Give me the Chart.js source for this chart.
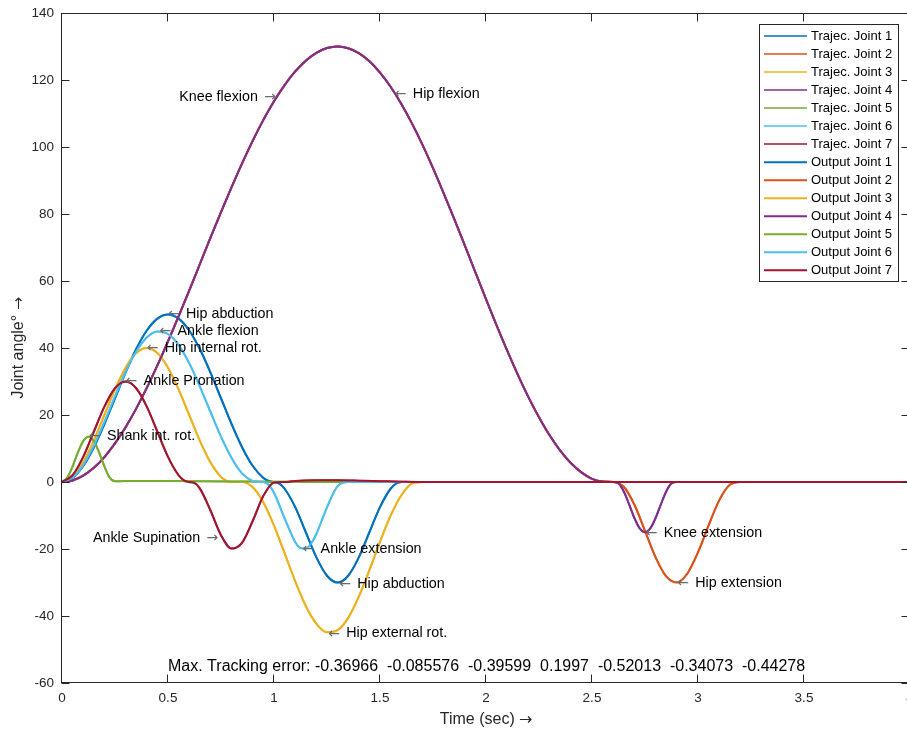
<!DOCTYPE html>
<html><head><meta charset="utf-8">
<script src="https://cdn.jsdelivr.net/npm/chart.js@4.4.0/dist/chart.umd.min.js"></script>
<style>
@font-face{font-family:'ArrowFix';src:local('DejaVu Sans');unicode-range:U+2190-2193;}
html,body{margin:0;padding:0;overflow:hidden;background:#fff;width:907px;height:730px}
canvas{display:block}
</style></head>
<body>
<canvas id="c" width="930" height="730" style="width:930px;height:730px"></canvas>
<script>
// ---- data ----
const xTicks = [0, 0.5, 1, 1.5, 2, 2.5, 3, 3.5, 4];
const yTicks = [-60, -40, -20, 0, 20, 40, 60, 80, 100, 120, 140];

// Joint 1 (hip abduction)
const t1 = [0,0.05,0.1,0.15,0.2,0.25,0.3,0.35,0.4,0.45,0.5,0.55,0.6,0.65,0.7,0.75,0.8,0.85,0.9,0.95,0.975,1.0,1.025,1.05,1.1,1.15,1.2,1.25,1.3,1.35,1.4,1.45,1.5,1.55,1.6,4];
const v1 = [0,1.22,4.77,10.31,17.27,25,32.73,39.69,45.23,48.78,50,48.78,45.23,39.69,32.73,25,17.27,10.31,4.77,1.22,0.31,0,-0.51,-2.01,-7.5,-15,-22.5,-27.99,-30,-27.99,-22.5,-15,-7.5,-2.01,0,0];

// Joint 2 (hip flexion / extension)
const t2 = [0,0.05,0.1,0.15,0.2,0.25,0.3,0.35,0.4,0.45,0.5,0.55,0.6,0.65,0.7,0.75,0.8,0.85,0.9,0.95,1.0,1.05,1.1,1.15,1.2,1.25,1.3,1.35,1.4,1.45,1.5,1.55,1.6,1.65,1.7,1.75,1.8,1.85,1.9,1.95,2.0,2.05,2.1,2.15,2.2,2.25,2.3,2.35,2.4,2.45,2.5,2.55,2.6,2.65,2.7,2.75,2.8,2.85,2.9,2.95,3.0,3.05,3.1,3.15,3.2,4];
const v2 = [0,0.47,1.89,4.22,7.45,11.51,16.35,21.90,28.08,34.79,41.95,49.44,57.16,65,72.84,80.56,88.05,95.21,101.92,108.10,113.65,118.49,122.55,125.78,128.11,129.53,130,129.50,128.02,125.58,122.21,117.97,112.92,107.13,100.70,93.71,86.26,78.55,70.62,62.59,54.61,46.76,39.22,32.05,25.35,19.32,13.93,9.36,5.67,2.88,0.94,0.13,0,-1.43,-6.80,-14.59,-22.5,-28.19,-29.98,-27.30,-21.03,-12.94,-5.48,-0.82,0,0];

// Joint 3 (hip internal / external rotation)
const t3 = [0,0.05,0.1,0.15,0.2,0.25,0.3,0.35,0.4,0.45,0.5,0.55,0.6,0.65,0.7,0.75,0.8,0.85,0.9,0.95,1.0,1.05,1.1,1.15,1.2,1.25,1.3,1.35,1.4,1.45,1.5,1.55,1.6,1.65,1.7,4];
const v3 = [0,1.52,5.86,12.35,20,27.65,34.14,38.48,40,38.48,34.14,27.65,20,12.35,5.86,1.52,0,0,-1.59,-6.14,-13.00,-21.22,-29.62,-37.00,-42.32,-44.86,-44.24,-40.55,-34.22,-26.33,-17.85,-10.05,-4.04,-0.48,0,0];

// Joint 4 (knee flexion / extension)
const t4 = [0,0.05,0.1,0.15,0.2,0.25,0.3,0.35,0.4,0.45,0.5,0.55,0.6,0.65,0.7,0.75,0.8,0.85,0.9,0.95,1.0,1.05,1.1,1.15,1.2,1.25,1.3,1.35,1.4,1.45,1.5,1.55,1.6,1.65,1.7,1.75,1.8,1.85,1.9,1.95,2.0,2.05,2.1,2.15,2.2,2.25,2.3,2.35,2.4,2.45,2.5,2.55,2.6,2.625,2.65,2.675,2.7,2.725,2.75,2.775,2.8,2.825,2.85,2.875,2.9,4];
const v4 = [0,0.47,1.89,4.22,7.45,11.51,16.35,21.90,28.08,34.79,41.95,49.44,57.16,65,72.84,80.56,88.05,95.21,101.92,108.10,113.65,118.49,122.55,125.78,128.11,129.53,130,129.50,128.02,125.58,122.21,117.97,112.92,107.13,100.70,93.71,86.26,78.55,70.62,62.59,54.61,46.76,39.22,32.05,25.35,19.32,13.93,9.36,5.67,2.88,0.94,0.13,0,-0.42,-2.82,-6.66,-10.75,-13.85,-15,-13.85,-10.75,-6.66,-2.82,-0.42,0,0];

// Joint 5 (shank internal rotation)
const t5 = [0,0.025,0.05,0.075,0.1,0.125,0.15,0.175,0.2,0.225,0.25,0.3,0.4,0.5,0.6,0.8,1.0,1.2,4];
const v5 = [0,1.29,4.66,8.84,12.21,13.5,12.21,8.84,4.66,1.29,0.2,0.3,0.3,0.3,0.25,0.15,0.1,0,0];

// Joint 6 (ankle flexion / extension)
const t6 = [0,0.05,0.1,0.15,0.2,0.25,0.3,0.35,0.4,0.45,0.5,0.55,0.6,0.65,0.7,0.75,0.8,0.85,0.9,0.925,0.95,0.975,1.0,1.05,1.1,1.125,1.15,1.175,1.2,1.25,1.3,1.35,4];
const v6 = [0,1.30,5.05,10.80,17.92,25.56,32.85,38.95,43.14,44.95,44.17,40.88,35.48,28.57,20.97,13.54,7.16,2.50,0.27,0,0,-0.84,-3.23,-10.83,-17.89,-19.69,-19.86,-18.37,-15.46,-7.55,-1.21,0,0];

// Joint 7 (ankle pronation / supination)
const t7 = [0,0.05,0.1,0.15,0.2,0.25,0.3,0.35,0.4,0.45,0.5,0.55,0.575,0.6,0.625,0.65,0.7,0.75,0.8,0.85,0.9,0.95,1.0,1.05,1.1,1.2,1.3,1.4,1.5,1.6,1.7,4];
const v7 = [0,2.01,7.5,15,22.5,27.99,30,27.99,22.5,15,7.5,2.01,0.51,0,-0.28,-1.91,-8.44,-15.88,-19.88,-18.09,-11.56,-4.12,-0.12,0,0.3,0.5,0.5,0.4,0.25,0.1,0,0];

const jointTimes = [t1, t2, t3, t4, t5, t6, t7];
const jointAngles = [v1, v2, v3, v4, v5, v6, v7];

const trajLabels = ['Trajec. Joint 1','Trajec. Joint 2','Trajec. Joint 3','Trajec. Joint 4','Trajec. Joint 5','Trajec. Joint 6','Trajec. Joint 7'];
const outLabels = ['Output Joint 1','Output Joint 2','Output Joint 3','Output Joint 4','Output Joint 5','Output Joint 6','Output Joint 7'];

const noteTexts = ['Knee flexion','Hip flexion','Hip abduction','Ankle flexion','Hip internal rot.','Ankle Pronation','Shank int. rot.','Ankle Supination','Ankle extension','Hip abduction','Hip external rot.','Knee extension','Hip extension'];
const noteX = [1.009, 1.57, 0.5, 0.46, 0.4, 0.3, 0.127, 0.737, 1.135, 1.308, 1.256, 2.753, 2.902];
const noteY = [114.9, 115.8, 50.2, 45.1, 40.1, 30.1, 13.7, -16.8, -20.1, -30.4, -45.2, -15.1, -30.2];
const noteDir = ['right','left','left','left','left','left','left','right','left','left','left','left','left'];

const errorText = 'Max. Tracking error: -0.36966  -0.085576  -0.39599  0.1997  -0.52013  -0.34073  -0.44278';
const errorAt = [0.5, -55];

// ---- styles ----
const outColors = ['#0072BD','#D95319','#EDB120','#7E2F8E','#77AC30','#4DBEEE','#A2142F'];
const trajColors = ['rgba(0,114,189,0.75)','rgba(217,83,25,0.75)','rgba(237,177,32,0.75)','rgba(126,47,142,0.75)','rgba(119,172,48,0.75)','rgba(77,190,238,0.75)','rgba(162,20,47,0.75)'];
const FAM = "'Liberation Sans', Arial, Helvetica, sans-serif";
const TFAM = "'ArrowFix', 'Liberation Sans', Arial, Helvetica, sans-serif";
const ARROWFAM = "'DejaVu Sans', sans-serif";
const AX = '#262626';

const datasets = [];
function pts(i) { return jointTimes[i].map((t, k) => ({x: t, y: jointAngles[i][k]})); }
for (let i = 0; i < 7; i++) {
  datasets.push({label: trajLabels[i], data: pts(i), borderColor: trajColors[i], backgroundColor: trajColors[i], borderWidth: 2, pointRadius: 0, cubicInterpolationMode: 'monotone', fill: false});
}
for (let i = 0; i < 7; i++) {
  datasets.push({label: outLabels[i], data: pts(i), borderColor: outColors[i], backgroundColor: outColors[i], borderWidth: 2, pointRadius: 0, cubicInterpolationMode: 'monotone', fill: false});
}
datasets.forEach((d, i) => { d.order = -i; });

const framePlugin = {
  id: 'frame',
  afterDatasetsDraw(chart) {
    const {ctx, chartArea: a, scales: {x, y}} = chart;
    ctx.save();
    ctx.strokeStyle = AX; ctx.lineWidth = 1;
    const L = Math.round(a.left) - 0.5, R = Math.round(a.right) - 0.5;
    const T = Math.round(a.top) + 0.5, B = Math.round(a.bottom) - 0.5;
    ctx.strokeRect(L, T, R - L, B - T);
    ctx.beginPath();
    x.ticks.forEach(tk => {
      const px = Math.round(x.getPixelForValue(tk.value)) - 0.5;
      ctx.moveTo(px, B); ctx.lineTo(px, B - 8);
      ctx.moveTo(px, T); ctx.lineTo(px, T + 8);
    });
    y.ticks.forEach(tk => {
      const py = Math.round(y.getPixelForValue(tk.value)) + 0.5;
      ctx.moveTo(L, py); ctx.lineTo(L + 8, py);
      ctx.moveTo(R, py); ctx.lineTo(R - 8, py);
    });
    ctx.stroke();

    // annotations
    ctx.textBaseline = 'middle';
    noteTexts.forEach((txt, i) => {
      const px = x.getPixelForValue(noteX[i]);
      const py = y.getPixelForValue(noteY[i]);
      if (noteDir[i] === 'left') {
        ctx.textAlign = 'left';
        ctx.font = '14px ' + ARROWFAM;
        ctx.fillStyle = '#6a6a6a';
        ctx.fillText('\u2190', px, py + 0.5);
        ctx.font = '14.3px ' + FAM;
        ctx.fillStyle = '#000';
        ctx.fillText(txt, px + 18, py);
      } else {
        ctx.textAlign = 'right';
        ctx.font = '14px ' + ARROWFAM;
        ctx.fillStyle = '#6a6a6a';
        ctx.fillText('\u2192', px, py + 0.5);
        ctx.font = '14.3px ' + FAM;
        ctx.fillStyle = '#000';
        ctx.fillText(txt, px - 18, py);
      }
    });
    ctx.textAlign = 'left';
    ctx.fillStyle = '#000';
    ctx.font = '16px ' + FAM;
    ctx.fillText(errorText, x.getPixelForValue(errorAt[0]), y.getPixelForValue(errorAt[1]));
    ctx.restore();
  },
  afterDraw(chart) {
    const {ctx} = chart;
    const bx = 759.5, by = 24.5, bw = 139, bh = 257;
    ctx.save();
    ctx.fillStyle = '#fff';
    ctx.fillRect(bx, by, bw, bh);
    ctx.strokeStyle = AX; ctx.lineWidth = 1;
    ctx.strokeRect(bx, by, bw, bh);
    ctx.font = '13px ' + FAM;
    ctx.textBaseline = 'middle';
    ctx.textAlign = 'left';
    chart.data.datasets.forEach((d, i) => {
      const ry = 36 + i * 18.02;
      ctx.strokeStyle = d.borderColor; ctx.lineWidth = 2;
      ctx.beginPath(); ctx.moveTo(764, ry); ctx.lineTo(807, ry); ctx.stroke();
      ctx.fillStyle = '#000';
      ctx.fillText(d.label, 811, ry + 0.5);
    });
    ctx.restore();
  }
};

function build() {
  new Chart(document.getElementById('c'), {
    type: 'line',
    data: {datasets},
    options: {
      responsive: false,
      animation: false,
      devicePixelRatio: 1,
      layout: {padding: {left: 0, right: 20, top: 13, bottom: 0}},
      plugins: {legend: {display: false}, tooltip: {enabled: false}},
      scales: {
        x: {
          type: 'linear', min: 0, max: 4,
          afterBuildTicks: s => { s.ticks = xTicks.map(v => ({value: v})); },
          ticks: {autoSkip: false, maxRotation: 0, padding: 7, color: AX, font: {family: FAM, size: 13.5}, callback: v => String(v)},
          grid: {display: false, drawTicks: false},
          border: {display: false},
          title: {display: true, text: 'Time (sec) \u2192', color: AX, font: {family: TFAM, size: 16}, padding: {top: 0, bottom: 1}},
          afterFit: s => { s.height = 47; s.paddingLeft = 0; s.paddingRight = 0; }
        },
        y: {
          type: 'linear', min: -60, max: 140,
          afterBuildTicks: s => { s.ticks = yTicks.map(v => ({value: v})); },
          ticks: {padding: 8, color: AX, font: {family: FAM, size: 13.5}, callback: v => String(v)},
          grid: {display: false, drawTicks: false},
          border: {display: false},
          title: {display: true, text: 'Joint angle\u00B0 \u2192', color: AX, font: {family: TFAM, size: 16}, padding: {top: 9, bottom: 0}},
          afterFit: s => { s.width = 62; s.paddingTop = 0; s.paddingBottom = 0; }
        }
      }
    },
    plugins: [framePlugin]
  });
}

const fontReady = (document.fonts && document.fonts.load)
  ? Promise.all([document.fonts.load("16px 'ArrowFix'", '\u2192'), document.fonts.load("14px 'DejaVu Sans'", '\u2190')]).catch(() => null)
  : Promise.resolve();
fontReady.then(build, build);
</script>
</body></html>
